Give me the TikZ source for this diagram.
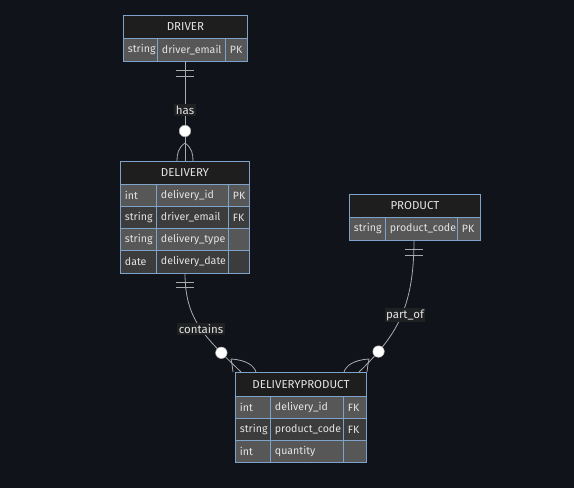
\documentclass[tikz,border=0pt]{standalone}
\usepackage{fontspec}
\setmainfont{Fira Sans}
\definecolor{bgc}{HTML}{10131A}
\definecolor{hdrc}{HTML}{1E1E1E}
\definecolor{oddc}{HTML}{575757}
\definecolor{evenc}{HTML}{3C3C3C}
\definecolor{borderc}{HTML}{7EA3CB}
\definecolor{textc}{HTML}{E4E4E4}
\definecolor{edgec}{HTML}{ABABAB}
\definecolor{lblbg}{HTML}{1F2021}
\tikzset{
  cellbox/.style={draw=borderc, line width=0.9pt, anchor=north west, inner ysep=0pt,
    inner xsep=4.5pt, text=textc, font=\fontsize{10.6}{12}\selectfont, align=left},
  hdrbox/.style={draw=borderc, line width=0.9pt, anchor=north west, inner sep=0pt,
    fill=hdrc, text=textc, font=\fontsize{11.5}{13}\selectfont, align=center},
  edge/.style={draw=edgec, line width=0.8pt},
  onecirc/.style={circle, fill=white, draw=edgec, line width=0.5pt, minimum size=11.5pt, inner sep=0pt},
  rellabel/.style={fill=lblbg, text=textc, inner sep=1.5pt, font=\fontsize{11.5}{13}\selectfont},
}
% \ercell{name}{x}{y}{width}{height}{fill}{text}
\newcommand{\ercell}[7]{%
  \pgfmathsetmacro{\tw}{#4-9}%
  \node[cellbox, fill=#6, text width=\tw pt, minimum height=#5pt] (#1) at (#2,#3) {#7};}
% \erhead{name}{x}{y}{width}{height}{text}
\newcommand{\erhead}[6]{%
  \node[hdrbox, minimum width=#4pt, minimum height=#5pt] (#1) at (#2,#3) {#6};}
\begin{document}
\begin{tikzpicture}[x=1pt, y=-1pt]
\fill[bgc] (0,0) rectangle (574,488);
\useasboundingbox (0,0) rectangle (574,488);

% DRIVER
\erhead{drv}{123}{15}{124}{23}{DRIVER}
\ercell{drv1a}{123}{38}{34}{23}{oddc}{string}
\ercell{drv1b}{157}{38}{68}{23}{oddc}{driver\_email}
\ercell{drv1c}{225}{38}{22}{23}{oddc}{PK}

% DELIVERY
\erhead{del}{120}{161}{129}{23}{DELIVERY}
\ercell{del1a}{120}{184}{36}{22}{oddc}{int}
\ercell{del1b}{156}{184}{72}{22}{oddc}{delivery\_id}
\ercell{del1c}{228}{184}{21}{22}{oddc}{PK}
\ercell{del2a}{120}{206}{36}{22}{evenc}{string}
\ercell{del2b}{156}{206}{72}{22}{evenc}{driver\_email}
\ercell{del2c}{228}{206}{21}{22}{evenc}{FK}
\ercell{del3a}{120}{228}{36}{22}{oddc}{string}
\ercell{del3b}{156}{228}{72}{22}{oddc}{delivery\_type}
\ercell{del3c}{228}{228}{21}{22}{oddc}{}
\ercell{del4a}{120}{250}{36}{23}{evenc}{date}
\ercell{del4b}{156}{250}{72}{23}{evenc}{delivery\_date}
\ercell{del4c}{228}{250}{21}{23}{evenc}{}

% PRODUCT
\erhead{prd}{349}{194}{131}{23}{PRODUCT}
\ercell{prd1a}{349}{217}{36}{23}{oddc}{string}
\ercell{prd1b}{385}{217}{72}{23}{oddc}{product\_code}
\ercell{prd1c}{457}{217}{23}{23}{oddc}{PK}

% DELIVERYPRODUCT
\erhead{dlp}{235}{372}{131}{24}{DELIVERYPRODUCT}
\ercell{dlp1a}{235}{396}{35}{22}{oddc}{int}
\ercell{dlp1b}{270}{396}{73}{22}{oddc}{delivery\_id}
\ercell{dlp1c}{343}{396}{23}{22}{oddc}{FK}
\ercell{dlp2a}{235}{418}{35}{22}{evenc}{string}
\ercell{dlp2b}{270}{418}{73}{22}{evenc}{product\_code}
\ercell{dlp2c}{343}{418}{23}{22}{evenc}{FK}
\ercell{dlp3a}{235}{440}{35}{22}{oddc}{int}
\ercell{dlp3b}{270}{440}{73}{22}{oddc}{quantity}
\ercell{dlp3c}{343}{440}{23}{22}{oddc}{}

% attachment points of the relationship lines
\coordinate (drvB) at (185,61);
\coordinate (delT) at (185,161);
\coordinate (delB) at (185,273);
\coordinate (prdB) at (414,240);
\coordinate (dlpL) at (241,372);
\coordinate (dlpR) at (359,372);

% DRIVER ||--o{ DELIVERY : has
\draw[edge] (drvB) -- (delT)
  node[pos=0.49, rellabel] (lhas) {has}
  node[pos=0.7, onecirc] (chas) {};
\draw[edge] ([shift={(-9,9)}]drvB) -- ++(18,0);
\draw[edge] ([shift={(-9,15)}]drvB) -- ++(18,0);
\draw[edge] ([shift={(0,-18)}]delT) .. controls ++(-7,5) and ++(0,-7) .. ([shift={(-8,0)}]delT);
\draw[edge] ([shift={(0,-18)}]delT) .. controls ++(7,5) and ++(0,-7) .. ([shift={(8,0)}]delT);

% DELIVERY ||--o{ DELIVERYPRODUCT : contains
\draw[edge] (delB) .. controls (185,320) and (205,337) .. (dlpL)
  node[pos=0.8, onecirc] (ccon) {};
\node[rellabel] (lcon) at (201,329) {contains};
\draw[edge] ([shift={(-9,9)}]delB) -- ++(18,0);
\draw[edge] ([shift={(-9,14)}]delB) -- ++(18,0);
\draw[edge] ([shift={(-10,-13)}]dlpL) .. controls ++(1,5) .. ([shift={(-8,0)}]dlpL);
\draw[edge] ([shift={(-10,-13)}]dlpL) .. controls ++(16,1) and ++(-2,-6) .. ([shift={(15,0)}]dlpL);

% PRODUCT ||--o{ DELIVERYPRODUCT : part_of
\draw[edge] (prdB) .. controls (414,310) and (395,337) .. (dlpR)
  node[pos=0.8, onecirc] (cpart) {};
\node[rellabel] (lpart) at (405,315) {part\_of};
\draw[edge] ([shift={(-9,9)}]prdB) -- ++(18,0);
\draw[edge] ([shift={(-9,15)}]prdB) -- ++(18,0);
\draw[edge] ([shift={(10,-13)}]dlpR) .. controls ++(-1,5) .. ([shift={(8,0)}]dlpR);
\draw[edge] ([shift={(10,-13)}]dlpR) .. controls ++(-16,1) and ++(2,-6) .. ([shift={(-15,0)}]dlpR);
\end{tikzpicture}
\end{document}
